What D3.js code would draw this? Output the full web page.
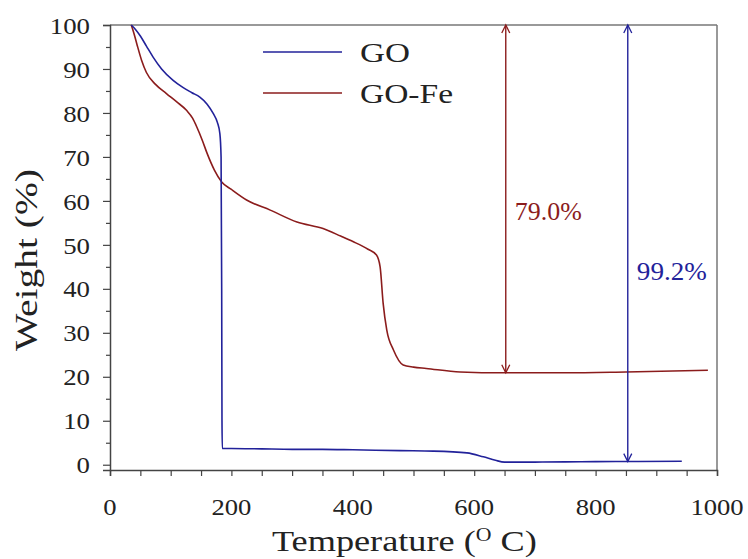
<!DOCTYPE html>
<html>
<head>
<meta charset="utf-8">
<script src="https://cdn.jsdelivr.net/npm/d3@7"></script>
<style>
html,body{margin:0;padding:0;background:#fff;}
</style>
</head>
<body>
<svg id="chart" width="748" height="559" font-family="'Liberation Serif', 'DejaVu Serif', 'Times New Roman', Times, serif"></svg>
<script>
// ---- data ----
const goTemp   = [35, 42, 50, 60, 71, 85, 104, 120, 135, 148, 160, 170, 177, 181, 183, 184, 184.5, 185, 200, 250, 300, 350, 400, 478, 533, 588, 615, 635, 650, 700, 750, 800, 870, 942];
const goWeight = [100, 99, 97.5, 95.2, 92.7, 90, 87.4, 85.8, 84.6, 83.6, 82, 79.9, 77.8, 75.3, 70, 40, 10, 3.7, 3.7, 3.6, 3.5, 3.5, 3.4, 3.2, 3.1, 2.7, 1.8, 1.0, 0.6, 0.6, 0.65, 0.7, 0.75, 0.8];
const feTemp   = [35, 39, 44, 52, 60, 75, 93, 110, 126, 136, 143, 152, 160, 172, 184, 200, 225, 264, 308, 351, 380, 401, 425, 439, 445, 450, 456, 467, 483, 500, 521, 577, 648, 750, 850, 985];
const feWeight = [100, 98.3, 95.8, 92, 89.2, 86.5, 84.4, 82.5, 80.6, 78.8, 76.8, 73.8, 70.8, 67, 64.3, 62.6, 60.2, 57.9, 55.2, 53.7, 52, 50.7, 49, 47.7, 45, 36.7, 30.6, 26.1, 22.7, 22.2, 21.9, 21.1, 20.9, 20.9, 21.1, 21.5];
const seriesNames = ["GO", "GO-Fe"];
const xTicks = [0, 200, 400, 600, 800, 1000];
const yTicks = [0, 10, 20, 30, 40, 50, 60, 70, 80, 90, 100];
const lossLabels = ["79.0%", "99.2%"];
const arrowTemp = [652, 853];
const arrowBottom = [20.9, 0.7];
const labelPos = [[667, 55.6], [868, 42]];

// ---- layout ----
const BLUE = "#22229a", RED = "#8b1c1c", AX = "#444";
const svg = d3.select("#chart");
const x = d3.scaleLinear().domain([0, 1000]).range([110, 717]);
const y = d3.scaleLinear().domain([-1.2, 100]).range([470, 25]);

// frame (top & right)
svg.append("line").attr("x1", x(0)).attr("x2", x(1000)).attr("y1", y(100)).attr("y2", y(100)).attr("stroke", "#777").attr("stroke-width", 1.5);
svg.append("line").attr("x1", x(1000)).attr("x2", x(1000)).attr("y1", y(100)).attr("y2", y(-1.2)).attr("stroke", "#777").attr("stroke-width", 1.5);

// x axis
const xAxis = d3.axisBottom(x).tickValues(d3.range(0, 1001, 50)).tickSize(6).tickFormat("");
const gx = svg.append("g").attr("transform", `translate(0,${y(-1.2)})`).call(xAxis);
gx.select(".domain").attr("stroke", AX).attr("stroke-width", 1.5);
gx.selectAll(".tick line").attr("stroke", AX).attr("stroke-width", 1.2);
svg.selectAll(".xlab").data(xTicks).join("text")
  .attr("x", d => x(d)).attr("y", 515)
  .attr("text-anchor", "middle").attr("font-size", 24).attr("fill", "#222")
  .attr("textLength", d => String(d).length * 13.3).attr("lengthAdjust", "spacingAndGlyphs")
  .text(d => d);

// y axis
const yAxis = d3.axisLeft(y).tickValues(d3.range(0, 101, 5)).tickSize(7).tickFormat("");
const gy = svg.append("g").attr("transform", `translate(${x(0)},0)`).call(yAxis);
gy.select(".domain").attr("stroke", AX).attr("stroke-width", 1.5);
gy.selectAll(".tick line").attr("stroke", AX).attr("stroke-width", 1.2)
  .attr("x2", d => d % 10 === 0 ? -7 : -4);
svg.selectAll(".ylab").data(yTicks).join("text")
  .attr("x", 90).attr("y", d => y(d)).attr("dy", "0.36em")
  .attr("text-anchor", "end").attr("font-size", 24).attr("fill", "#222")
  .attr("textLength", d => String(d).length * 13.4).attr("lengthAdjust", "spacingAndGlyphs")
  .text(d => d);

// axis titles
const xt = svg.append("g").attr("transform", "translate(272,551)");
const xtText = xt.append("text").attr("font-size", 30).attr("fill", "#222");
xtText.append("tspan").text("Temperature (");
xtText.append("tspan").attr("font-size", 18).attr("dy", -10).text("O");
xtText.append("tspan").attr("dy", 10).text(" C)");
const xtLen = xtText.node().getComputedTextLength();
xtText.attr("transform", `scale(${265 / xtLen},1)`);

svg.append("text").attr("transform", "translate(37,260) rotate(-90)")
  .attr("text-anchor", "middle").attr("font-size", 32).attr("fill", "#222")
  .attr("textLength", 182).attr("lengthAdjust", "spacingAndGlyphs")
  .text("Weight (%)");

// lines
const line = d3.line().x(d => x(d[0])).y(d => y(d[1])).curve(d3.curveMonotoneX);
const goData = goTemp.map((t, i) => [t, goWeight[i]]);
const feData = feTemp.map((t, i) => [t, feWeight[i]]);
svg.append("path").datum(feData).attr("d", line).attr("fill", "none").attr("stroke", RED).attr("stroke-width", 1.6);
svg.append("path").datum(goData).attr("d", line).attr("fill", "none").attr("stroke", BLUE).attr("stroke-width", 1.6);

// legend
const legColors = [BLUE, RED];
const legY = [52, 93];
const legW = [50, 93];
seriesNames.forEach((n, i) => {
  svg.append("line").attr("x1", 263).attr("x2", 342).attr("y1", legY[i]).attr("y2", legY[i])
    .attr("stroke", legColors[i]).attr("stroke-width", 1.6);
  svg.append("text").attr("x", 360).attr("y", legY[i]).attr("dy", "0.35em")
    .attr("font-size", 28).attr("fill", "#222")
    .attr("textLength", legW[i]).attr("lengthAdjust", "spacingAndGlyphs").text(n);
});

// arrows
const defs = svg.append("defs");
[RED, BLUE].forEach((c, i) => {
  defs.append("marker").attr("id", "ah" + i).attr("viewBox", "-10 -6 12 12")
    .attr("refX", 0).attr("refY", 0).attr("markerWidth", 12).attr("markerHeight", 12)
    .attr("markerUnits", "userSpaceOnUse").attr("orient", "auto-start-reverse")
    .append("path").attr("d", "M-8,-4 L0,0 L-8,4").attr("fill", "none").attr("stroke", c).attr("stroke-width", 1.3);
});
const arrowColors = [RED, BLUE];
arrowTemp.forEach((t, i) => {
  svg.append("line").attr("x1", x(t)).attr("x2", x(t)).attr("y1", y(100)).attr("y2", y(arrowBottom[i]))
    .attr("stroke", arrowColors[i]).attr("stroke-width", 1.4)
    .attr("marker-start", `url(#ah${i})`).attr("marker-end", `url(#ah${i})`);
  svg.append("text").attr("x", x(labelPos[i][0])).attr("y", y(labelPos[i][1]))
    .attr("font-size", 26).attr("fill", arrowColors[i])
    .attr("textLength", i === 0 ? 67 : 70).attr("lengthAdjust", "spacingAndGlyphs")
    .text(lossLabels[i]);
});
</script>
</body>
</html>
